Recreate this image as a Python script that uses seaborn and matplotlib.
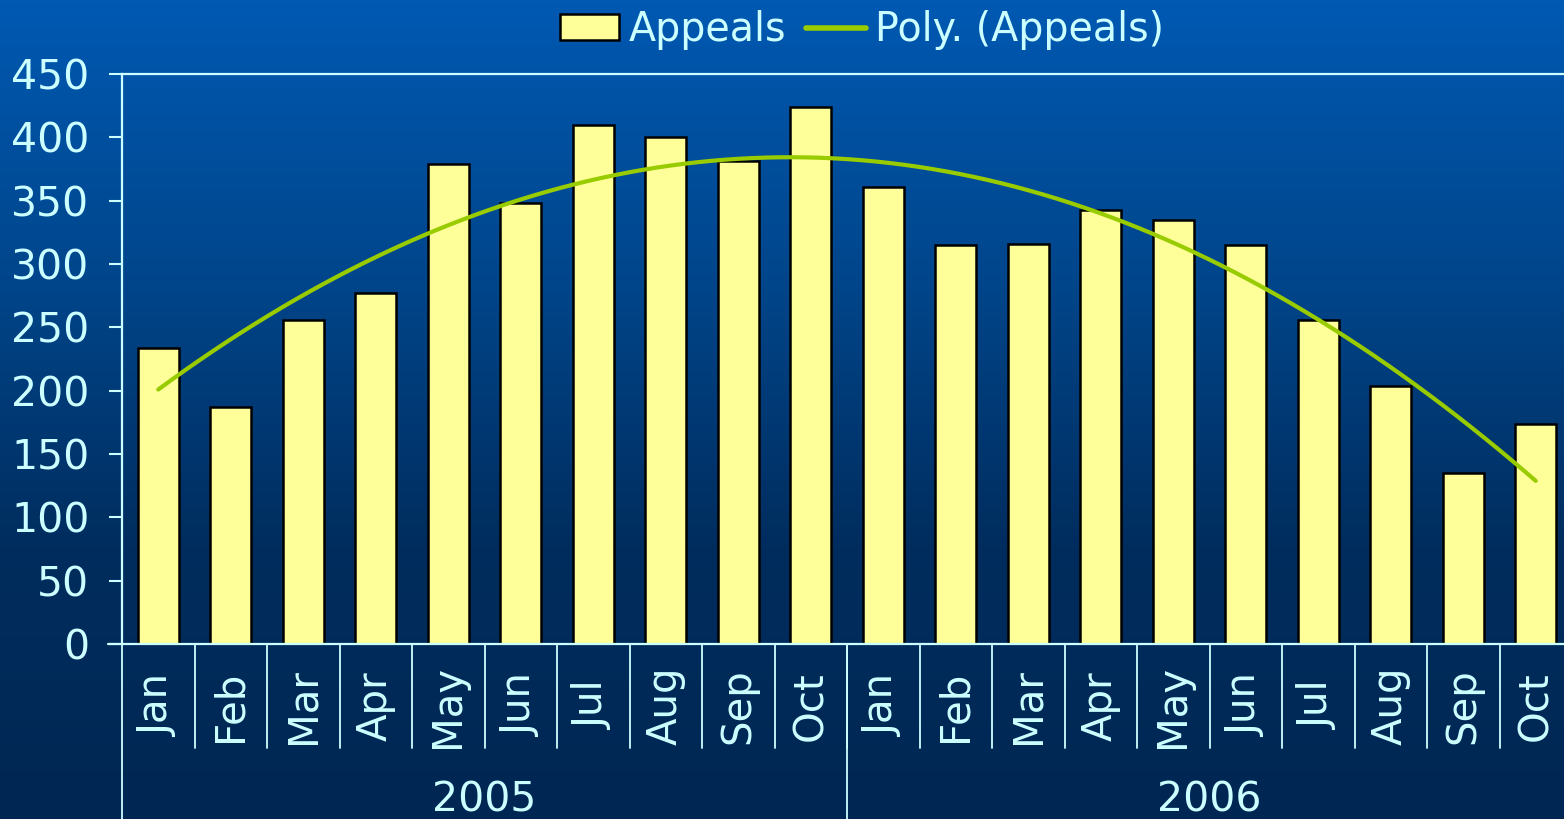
import numpy as np
import pandas as pd
import matplotlib
matplotlib.use("Agg")
import matplotlib.pyplot as plt
import seaborn as sns
from matplotlib.colors import LinearSegmentedColormap
from matplotlib.lines import Line2D
from matplotlib.patches import Patch

# ---- data ----
months = ["Jan", "Feb", "Mar", "Apr", "May", "Jun", "Jul", "Aug", "Sep", "Oct",
          "Jan", "Feb", "Mar", "Apr", "May", "Jun", "Jul", "Aug", "Sep", "Oct"]
years = ["2005", "2006"]
year_counts = [10, 10]
appeals = [234, 187, 256, 277, 379, 348, 410, 400, 381, 424,
           361, 315, 316, 343, 335, 315, 256, 204, 135, 174]
poly_order = 2

TXT = "#ccffff"
BAR = "#ffff99"
GREEN = "#99cc00"
FS = 29.5

sns.set_theme(style="white")
plt.rcParams['font.family'] = ['DejaVu Sans']

W, H = 1564, 819
fig = plt.figure(figsize=(W / 100, H / 100), dpi=100)

# background gradient
bg = fig.add_axes([0, 0, 1, 1], zorder=-10)
grad = np.linspace(0, 1, 256).reshape(-1, 1)
cmap = LinearSegmentedColormap.from_list("bg", ["#0059b2", "#00468c", "#002d5e", "#002753"])
bg.imshow(grad, aspect="auto", cmap=cmap, extent=[0, 1, 0, 1], origin="upper")
bg.set_axis_off()

left_px, right_px, top_px, bot_px = 122, 1572, 74, 644
ax = fig.add_axes([left_px / W, (H - bot_px) / H, (right_px - left_px) / W, (bot_px - top_px) / H])
ax.patch.set_alpha(0)

df = pd.DataFrame({"key": [f"{i}" for i in range(len(appeals))], "Appeals": appeals})
sns.barplot(data=df, x="key", y="Appeals", color=BAR, saturation=1, width=0.57,
            edgecolor="black", linewidth=1.8, ax=ax, zorder=2)

# polynomial trendline (fitted to the bar values, like Excel's trendline)
xs = np.arange(len(appeals))
coef = np.polyfit(xs + 1, appeals, poly_order)
xf = np.linspace(0, len(appeals) - 1, 300)
yf = np.polyval(coef, xf + 1)
sns.lineplot(x=xf, y=yf, color=GREEN, linewidth=3.0, ax=ax, zorder=3, legend=False)

ax.set_xlim(-0.5, len(appeals) - 0.5)
ax.set_ylim(0, 450)
ax.set_yticks(np.arange(0, 451, 50))
ax.set_xticks([])
ax.set_xlabel("")
ax.set_ylabel("")
ax.tick_params(axis="y", colors=TXT, labelsize=FS, length=9.5, width=1.5, pad=14, left=True, direction="out")
for t in ax.get_yticklabels():
    t.set_color(TXT)
for s in ["left", "bottom", "top"]:
    ax.spines[s].set_visible(True)
    ax.spines[s].set_color(TXT)
    ax.spines[s].set_linewidth(1.6)
ax.spines["right"].set_visible(False)

# two-level x axis
tr = ax.get_xaxis_transform()
axh = bot_px - top_px
def ya(px):
    return (bot_px - px) / axh
for i, m in enumerate(months):
    ax.text(i, ya(706), m, rotation=90, ha="center", va="center", color=TXT,
            fontsize=FS - 0.5, transform=tr, clip_on=False)
for i in range(1, len(months)):
    ax.plot([i - 0.5, i - 0.5], [0, ya(748)], color=TXT, lw=1.3, transform=tr, clip_on=False)
start = 0
for y, c in zip(years, year_counts):
    ax.text(start + c / 2 - 0.5, ya(800), y, ha="center", va="center", color=TXT,
            fontsize=FS, transform=tr, clip_on=False)
    ax.plot([start - 0.5, start - 0.5], [0, ya(819)], color=TXT, lw=1.3, transform=tr, clip_on=False)
    start += c
ax.plot([-0.5 - 0.19, -0.5], [0, 0], color=TXT, lw=1.6, transform=ax.transData, clip_on=False)

handles = [Patch(facecolor=BAR, edgecolor="black", linewidth=1.8, label="Appeals"),
           Line2D([], [], color=GREEN, lw=4, label="Poly. (Appeals)")]
leg = fig.legend(handles=handles, loc="center", bbox_to_anchor=(862 / W, 1 - 30 / H), ncol=2,
                 frameon=False, fontsize=28.5, handlelength=1.5, handletextpad=0.25, columnspacing=0.5,
                 handleheight=0.6)
for t in leg.get_texts():
    t.set_color(TXT)

fig.savefig("out.png", dpi=100)
